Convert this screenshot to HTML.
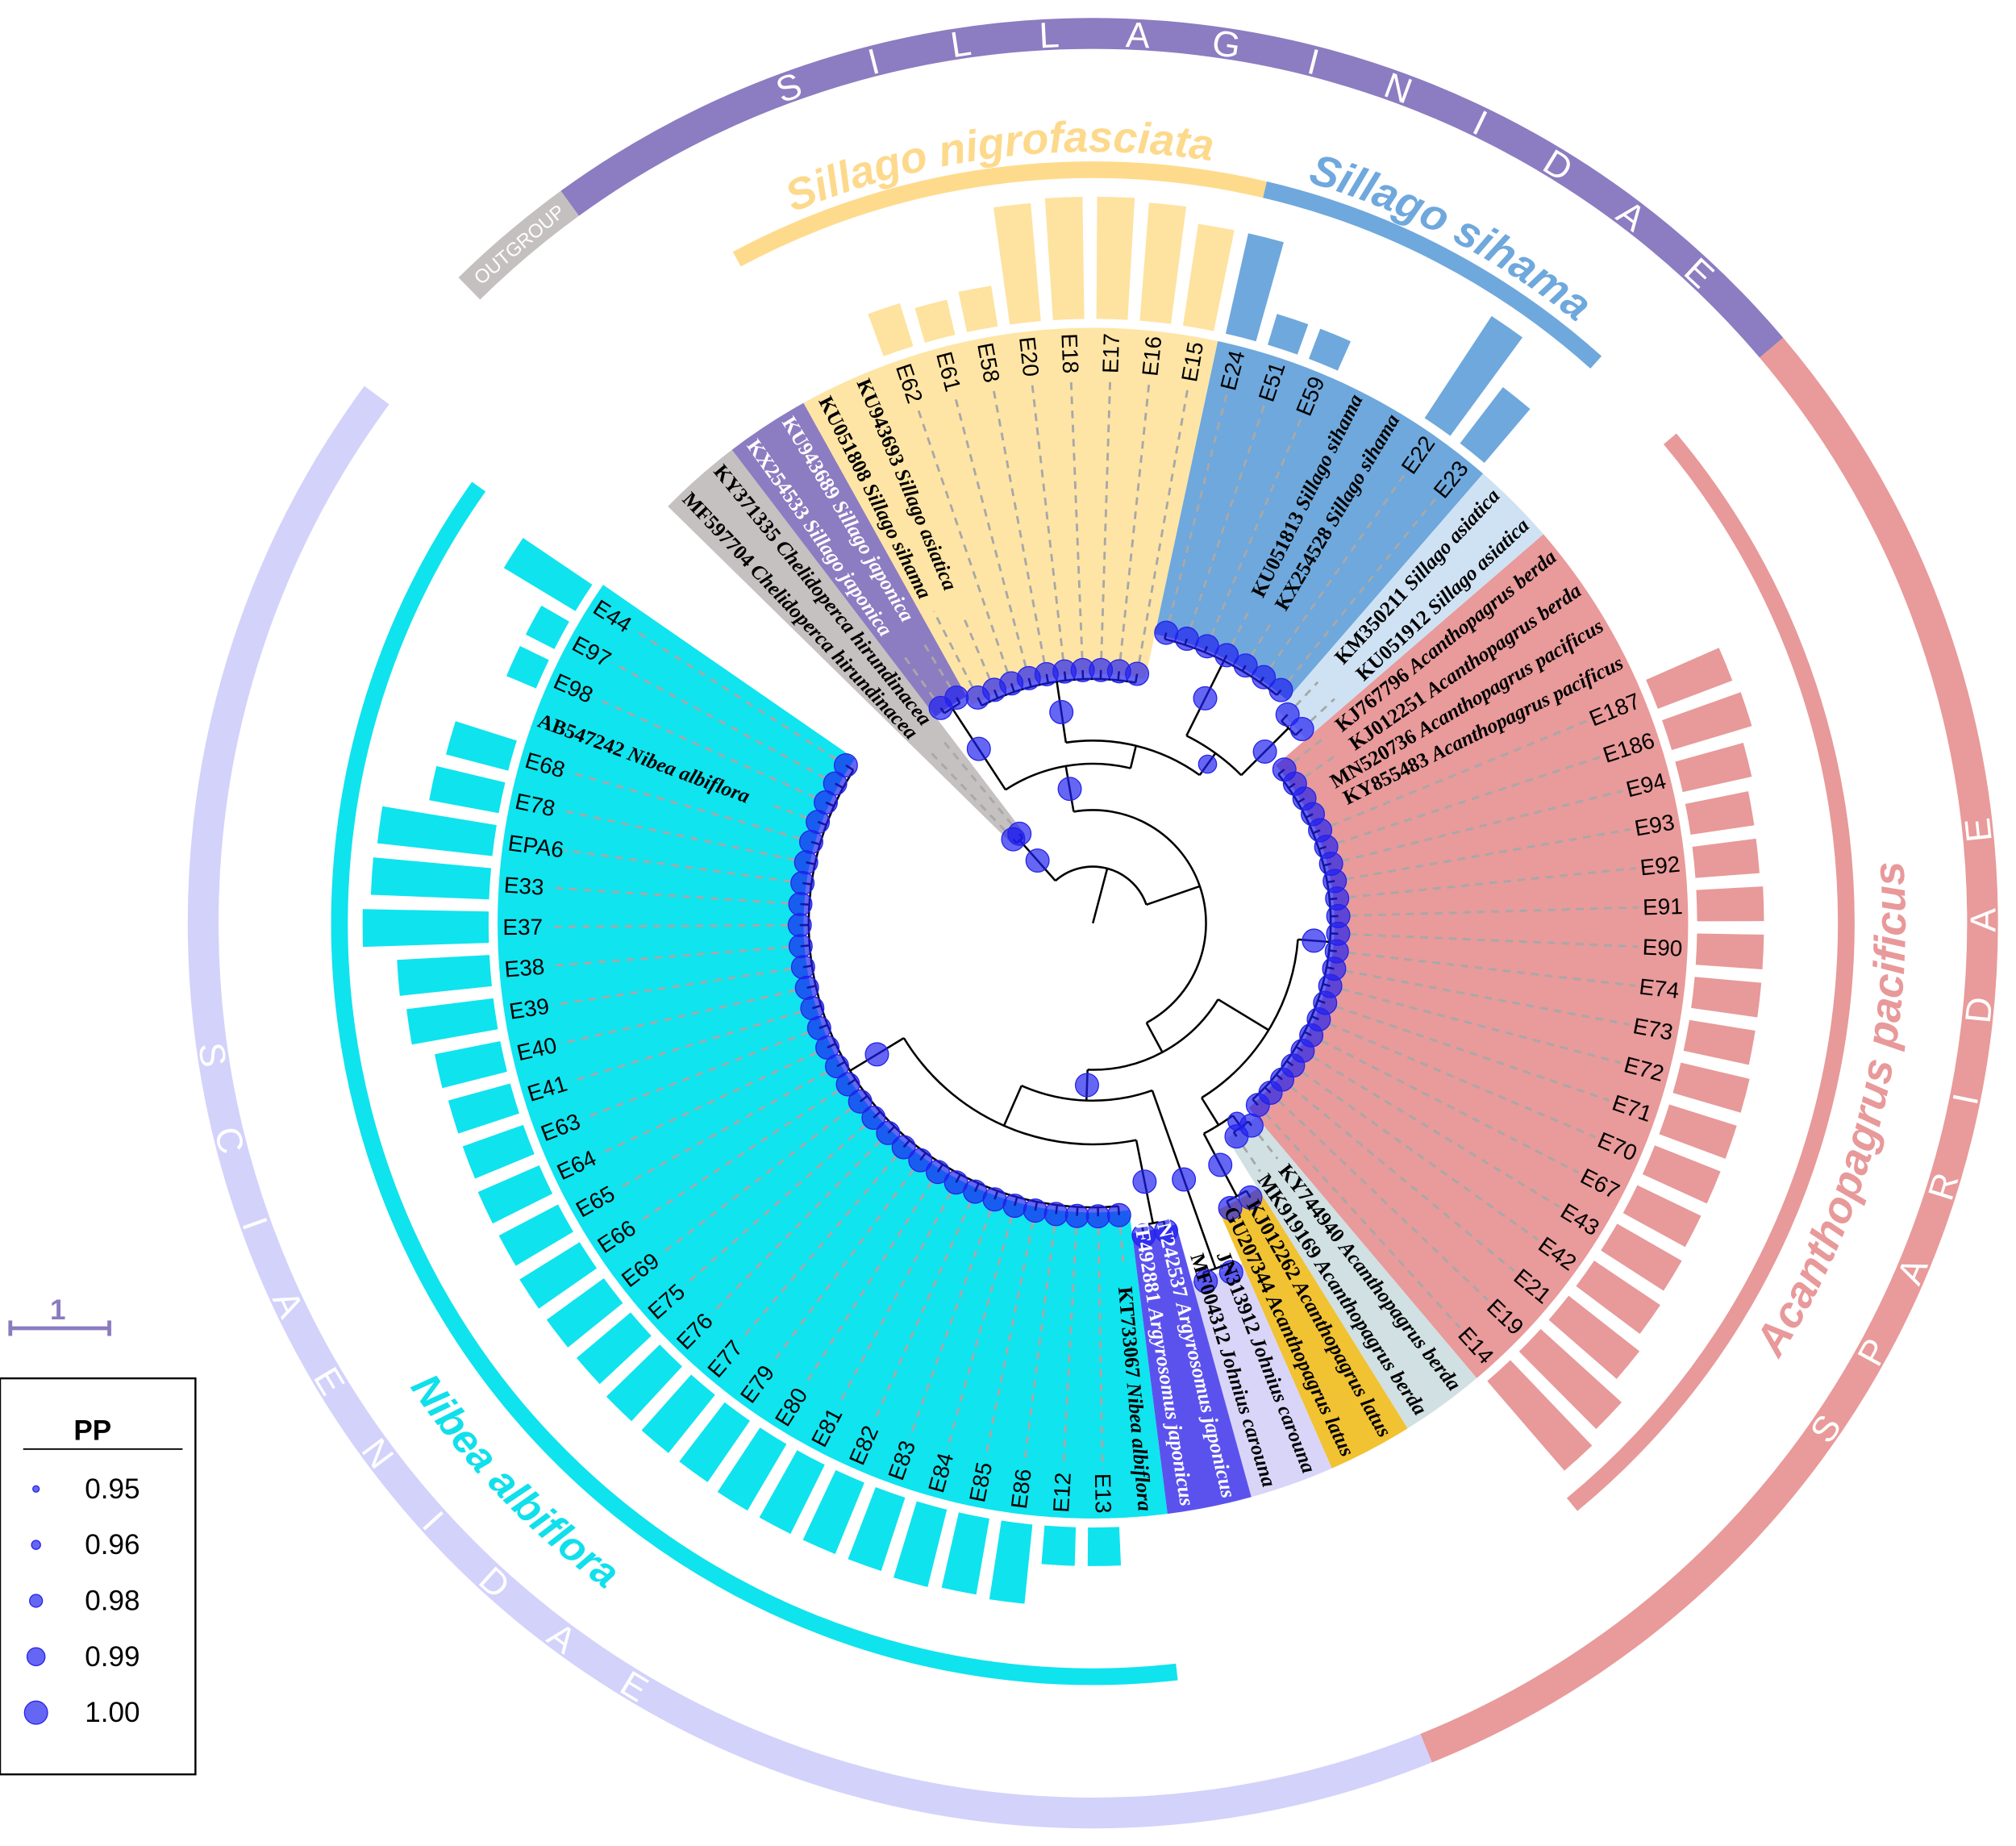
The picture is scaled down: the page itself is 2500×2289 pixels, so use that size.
<!DOCTYPE html>
<html>
<head>
<meta charset="utf-8">
<title>Circular phylogenetic tree</title>
<style>
html,body{margin:0;padding:0;background:#fff;}
svg{display:block;}
</style>
</head>
<body>
<svg id="chart" xmlns="http://www.w3.org/2000/svg" width="2500" height="2289" viewBox="0 0 1568 1435.7">
  <rect x="0" y="0" width="1568" height="1435.7" fill="#ffffff"/>
  <g id="wedges"></g>
  <g id="bars"></g>
  <g id="dashes"></g>
  <g id="tree"></g>
  <g id="dots"></g>
  <g id="labels"></g>
  <g id="rings"></g>
  <g id="ringtext"></g>

  <g>
    <text x="45" y="1026" font-family="Liberation Sans, sans-serif" font-weight="bold" font-size="22" fill="#8b7bc0" text-anchor="middle">1</text>
    <line x1="8" y1="1033" x2="85" y2="1033" stroke="#8b7bc0" stroke-width="3"/>
    <line x1="8" y1="1027" x2="8" y2="1039" stroke="#8b7bc0" stroke-width="3"/>
    <line x1="85" y1="1027" x2="85" y2="1039" stroke="#8b7bc0" stroke-width="3"/>
  </g>

  <g id="legend">
    <rect x="0" y="1072" width="152" height="308" fill="#fff" stroke="#000" stroke-width="1.5"/>
    <text x="72" y="1120" font-family="Liberation Sans, sans-serif" font-weight="bold" font-size="22" text-anchor="middle">PP</text>
    <line x1="18" y1="1127" x2="142" y2="1127" stroke="#000" stroke-width="1.2"/>
  </g>
</svg>

<script>
const CX = 850, CY = 718;
const A0 = -43.5, STEP = 4.12;

const tipNames = [
 "MF597704 Chelidoperca hirundinacea","KY371335 Chelidoperca hirundinacea",
 "KX254533 Sillago japonica","KU943689 Sillago japonica",
 "KU051808 Sillago sihama","KU943693 Sillago asiatica","E62","E61","E58","E20","E18","E17","E16","E15",
 "E24","E51","E59","KU051813 Sillago sihama","KX254528 Sillago sihama","E22","E23",
 "KM350211 Sillago asiatica","KU051912 Sillago asiatica",
 "KJ767796 Acanthopagrus berda","KJ012251 Acanthopagrus berda","MN520736 Acanthopagrus pacificus","KY855483 Acanthopagrus pacificus",
 "E187","E186","E94","E93","E92","E91","E90","E74","E73","E72","E71","E70","E67","E43","E42","E21","E19","E14",
 "KY744940 Acanthopagrus berda","MK919169 Acanthopagrus berda",
 "KJ012262 Acanthopagrus latus","GU207344 Acanthopagrus latus",
 "JN313912 Johnius carouna","MF004312 Johnius carouna",
 "JN242537 Argyrosomus japonicus","JF492881 Argyrosomus japonicus",
 "KT733067 Nibea albiflora","E13","E12","E86","E85","E84","E83","E82","E81","E80","E79","E77","E76","E75","E69","E66","E65","E64","E63","E41","E40","E39","E38","E37","E33","EPA6","E78","E68","AB547242 Nibea albiflora","E98","E97","E44"
];

const tipRadius = [
 90,90,
 205,205,
 197,197,197,197,197,197,197,197,197,197,
 233,233,233,233,233,233,233,
 222,222,
 191,191,191,191,191,191,191,191,191,191,191,191,191,191,191,191,191,191,191,191,191,191,
 200,200,
 246,246,
 292,292,
 246,246,
 228,228,228,228,228,228,228,228,228,228,228,228,228,228,228,228,228,228,228,228,228,228,228,228,228,228,228,228,228,228,228,228
];

const barLength = [
 0,0,
 0,0,
 0,0,35,28,32,92,95,95,92,80,
 80,25,25,0,0,95,55,
 0,0,
 0,0,0,0,62,65,55,50,50,52,52,52,52,55,55,55,55,58,62,70,85,92,
 0,0,
 0,0,
 0,0,
 0,0,
 0,30,30,62,60,62,60,60,60,60,58,58,58,55,55,55,52,52,50,50,52,68,72,98,92,90,55,50,0,25,25,65
];

const groupNames = ["outgroup","sillago-japonica","sillago-nigrofasciata","sillago-sihama","sillago-asiatica","acanthopagrus-pacificus","acanthopagrus-berda","acanthopagrus-latus","johnius-carouna","argyrosomus-japonicus","nibea-albiflora"];
const groupFirst = [0,2,4,14,21,23,45,47,49,51,53];
const groupLast  = [1,3,13,20,22,44,46,48,50,52,84];
const groupColor = ["#c5c1c0","#8c7cc1","#fee5a5","#6ea8dc","#cfe2f3","#e99a9a","#d0e0e3","#f1c232","#d9d5f8","#5b52ee","#0fe4ef"];
const groupText  = ["#000","#fff","#000","#000","#000","#000","#000","#000","#000","#fff","#000"];
const barColor   = ["#c5c1c0","#8c7cc1","#fee29f","#6fa8dc","#cfe2f3","#e89999","#e89999","#e89999","#d9d5f8","#5b52ee","#0fe3ee"];

const nodes = {
 A:{r:44,c:["Out","B"]},
 Out:{r:86,c:[0,1]},
 B:{r:88,c:["C","D"]},
 C:{r:124,c:["Jap","E"]},
 Jap:{r:200,c:[2,3]},
 E:{r:142,c:["Y","F"]},
 Y:{r:190,c:[4,5,6,7,8,9,10,11,12,13]},
 F:{r:163,c:["Bl","LB"]},
 Bl:{r:228,c:[14,15,16,17,18,19,20]},
 LB:{r:215,c:[21,22]},
 D:{r:114,c:["Ac","G"]},
 Ac:{r:160,c:["Red","Low"]},
 Red:{r:185,c:[23,24,25,26,27,28,29,30,31,32,33,34,35,36,37,38,39,40,41,42,43,44]},
 Low:{r:185,c:["Te","Go"]},
 Te:{r:196,c:[45,46]},
 Go:{r:240,c:[47,48]},
 G:{r:138,c:["Jo","H"]},
 Jo:{r:285,c:[49,50]},
 H:{r:172,c:["I","J"]},
 I:{r:238,c:[51,52]},
 J:{r:221,c:[53,54,55,56,57,58,59,60,61,62,63,64,65,66,67,68,69,70,71,72,73,74,75,76,77,78,79,80,81,82,83,84]}
};
const nodeParent = {Out:"A",B:"A",C:"B",D:"B",Jap:"C",E:"C",Y:"E",F:"E",Bl:"F",LB:"F",Ac:"D",G:"D",Red:"Ac",Low:"Ac",Te:"Low",Go:"Low",Jo:"G",H:"G",I:"H",J:"H"};
const nodePPKeys   = ["Out","C","Jap","Y","F","Bl","LB","Red","G","J","I","Jo","Go","Te"];
const nodePPValues = [1.00,1.00,1.00,1.00,0.99,1.00,1.00,1.00,1.00,1.00,1.00,1.00,1.00,0.99];
const tipPP = 1.00;

const legendValues = [0.95,0.96,0.98,0.99,1.00];
const legendLabels = ["0.95","0.96","0.98","0.99","1.00"];

const NS = "http://www.w3.org/2000/svg";
function P(r,a){const t=a*Math.PI/180;return [CX+r*Math.sin(t), CY-r*Math.cos(t)];}
function ang(i){return A0+i*STEP;}
function ppRadius(v){ if(v>=1) return 9; if(v>=0.99) return 7; if(v>=0.98) return 5; if(v>=0.96) return 3.5; return 2.5; }
function el(tag, parent, attrs){const e=document.createElementNS(NS,tag);for(const k in attrs)e.setAttribute(k,attrs[k]);parent.appendChild(e);return e;}
function sector(r1,r2,a1,a2){
  const lg=(a2-a1)>180?1:0;
  const p1=P(r2,a1),p2=P(r2,a2),p3=P(r1,a2),p4=P(r1,a1);
  return `M${p1[0]},${p1[1]} A${r2},${r2} 0 ${lg} 1 ${p2[0]},${p2[1]} L${p3[0]},${p3[1]} A${r1},${r1} 0 ${lg} 0 ${p4[0]},${p4[1]} Z`;
}
function arcPath(r,a1,a2){
  const lg=(a2-a1)>180?1:0;const p1=P(r,a1),p2=P(r,a2);
  return `M${p1[0]},${p1[1]} A${r},${r} 0 ${lg} 1 ${p2[0]},${p2[1]}`;
}
function groupOf(i){for(let g=0;g<groupFirst.length;g++) if(i>=groupFirst[g]&&i<=groupLast[g]) return g; return 0;}
function angOf(c){ if(typeof c==="number") return ang(c); const n=nodes[c]; return (angOf(n.c[0])+angOf(n.c[n.c.length-1]))/2; }
function radOf(c){ return typeof c==="number" ? tipRadius[c] : nodes[c].r; }

const gW=document.getElementById("wedges"), gB=document.getElementById("bars"), gD=document.getElementById("dashes"),
      gT=document.getElementById("tree"), gP=document.getElementById("dots"), gL=document.getElementById("labels"),
      gR=document.getElementById("rings"), gRT=document.getElementById("ringtext");

for(let g=0; g<groupNames.length; g++){
  let minR=1e9; for(let i=groupFirst[g]; i<=groupLast[g]; i++) minR=Math.min(minR,tipRadius[i]);
  const w=el("path",gW,{d:sector(minR-3,463,ang(groupFirst[g])-STEP/2,ang(groupLast[g])+STEP/2),fill:groupColor[g]});
  
  
}

for(let i=0;i<tipNames.length;i++){
  if(barLength[i]<=0) continue;
  const g=groupOf(i), a=ang(i);
  const b=el("path",gB,{d:sector(470,470+barLength[i],a-STEP*0.36,a+STEP*0.36),fill:barColor[g]});
  
  
}

for(let i=0;i<tipNames.length;i++){
  const a=ang(i), g=groupOf(i), name=tipNames[i];
  const sp=name.indexOf(" ");
  const isAcc = sp>0;
  const w = isAcc ? name.length*7.9 : name.length*9.8;
  const rOut=459, rIn=rOut-w;
  const d1=P(tipRadius[i]+9,a), d2=P(rIn-5,a);
  if(rIn-5>tipRadius[i]+9){
    const ln=el("line",gD,{x1:d1[0],y1:d1[1],x2:d2[0],y2:d2[1],stroke:"#a8a8a8","stroke-width":1.8,"stroke-dasharray":"6 5"});
    
    
  }
  let norm=((a%360)+360)%360;
  const right = norm<180;
  const p=P(rOut,a);
  const rot = right ? a-90 : a+90;
  const t=el("text",gL,{x:p[0],y:p[1],transform:`rotate(${rot} ${p[0]} ${p[1]})`,"text-anchor":right?"end":"start","dominant-baseline":"central",fill:groupText[g]});
  
  
  if(isAcc){
    t.setAttribute("font-family","Liberation Serif, serif");
    t.setAttribute("font-weight","bold");
    t.setAttribute("font-size","16");
    const s1=el("tspan",t,{}); s1.textContent=name.slice(0,sp)+" ";
    const s2=el("tspan",t,{"font-style":"italic"}); s2.textContent=name.slice(sp+1);
  } else {
    t.setAttribute("font-family","Liberation Sans, sans-serif");
    t.setAttribute("font-size","17.5");
    t.textContent=name;
  }
}

const stroke={stroke:"#000","stroke-width":1.6,fill:"none"};
{
  const a=angOf("A"), p1=P(0,a), p2=P(nodes.A.r,a);
  const root=el("line",gT,Object.assign({x1:p1[0],y1:p1[1],x2:p2[0],y2:p2[1]},stroke));
  
  
}
for(const k in nodes){
  const n=nodes[k];
  const a1=angOf(n.c[0]), a2=angOf(n.c[n.c.length-1]);
  const arc=el("path",gT,Object.assign({d:arcPath(n.r,a1,a2)},stroke));
  
  
  for(const c of n.c){
    const ac=angOf(c), q1=P(n.r,ac), q2=P(radOf(c),ac);
    const br=el("line",gT,Object.assign({x1:q1[0],y1:q1[1],x2:q2[0],y2:q2[1]},stroke));
    
    
  }
}

const dotStyle={fill:"rgba(30,30,240,0.68)",stroke:"#2323e8","stroke-width":0.8};
for(let i=0;i<tipNames.length;i++){
  const p=P(tipRadius[i],ang(i));
  const c=el("circle",gP,Object.assign({cx:p[0],cy:p[1],r:ppRadius(tipPP)},dotStyle));
  
  
}
for(let j=0;j<nodePPKeys.length;j++){
  const k=nodePPKeys[j], par=nodes[nodeParent[k]];
  const r=(par.r+nodes[k].r)/2, p=P(r,angOf(k));
  const c=el("circle",gP,Object.assign({cx:p[0],cy:p[1],r:ppRadius(nodePPValues[j])},dotStyle));
  
  
}

const arcNames = ["sillago-nigrofasciata","sillago-sihama","acanthopagrus-pacificus","nibea-albiflora"];
const arcStart = [-28.2,13.2,50,173.6];
const arcEnd   = [13.2,41.9,140.5,305.4];
const arcColor = ["#fedb8c","#6fa8dc","#e89999","#0fe3ee"];
for(let j=0;j<arcNames.length;j++){
  const p=el("path",gR,{d:arcPath(586,arcStart[j],arcEnd[j]),stroke:arcColor[j],"stroke-width":13,fill:"none"});
  
  
}
const famNames = ["outgroup","sillaginidae","sparidae","sciaenidae"];
const famStart = [-44.5,-36,49.7,158];
const famEnd   = [-36,49.7,158,306.4];
const famColor = ["#c4c0bf","#8c7cc1","#e99a9a","#d3d2fb"];
for(let j=0;j<famNames.length;j++){
  const p=el("path",gR,{d:arcPath(692,famStart[j],famEnd[j]),stroke:famColor[j],"stroke-width":24,fill:"none"});
  
  
}

function ringLetters(word, aFirst, aStep, clockwise, r, size, key){
  for(let i=0;i<word.length;i++){
    const a=aFirst+(clockwise?1:-1)*i*aStep;
    const p=P(r,a);
    const t=el("text",gRT,{x:p[0],y:p[1],transform:`rotate(${clockwise?a:a+180} ${p[0]} ${p[1]})`,"text-anchor":"middle","font-family":"Liberation Sans, sans-serif","font-size":size,fill:"#fff"});
    
    
    t.textContent=word[i];
  }
}
ringLetters("SILLAGINIDAE",-20,63/11,true,682,28,"sillaginidae");
ringLetters("SPARIDAE",124.6,40.6/7,false,702,28,"sparidae");
ringLetters("SCIAENIDAE",261.5,50.5/9,false,702,28,"sciaenidae");
{
  const a=-40.2, p=P(686,a);
  const t=el("text",gRT,{x:p[0],y:p[1],transform:`rotate(${a} ${p[0]} ${p[1]})`,"text-anchor":"middle","font-family":"Liberation Sans, sans-serif","font-size":15,fill:"#fff"});
  
  
  t.textContent="OUTGROUP";
}

const defs=el("defs",document.getElementById("chart"),{});
function curvedLabel(id, txt, center, r, clockwise, color, size){
  const s=center-70, e=center+70;
  let d;
  if(clockwise){ d=arcPath(r,s,e); }
  else { const p1=P(r,e),p2=P(r,s); d=`M${p1[0]},${p1[1]} A${r},${r} 0 0 0 ${p2[0]},${p2[1]}`; }
  el("path",defs,{id:id,d:d});
  const t=el("text",gRT,{"font-family":"Liberation Sans, sans-serif","font-weight":"bold","font-style":"italic","font-size":size,fill:color,"text-anchor":"middle"});
  
  
  const tp=el("textPath",t,{href:"#"+id,startOffset:"50%"});
  tp.setAttributeNS("http://www.w3.org/1999/xlink","xlink:href","#"+id);
  tp.textContent=txt;
}
curvedLabel("sillago-nigrofasciata","Sillago nigrofasciata",-7,600,true,"#fdd98c",34);
curvedLabel("sillago-sihama","Sillago sihama",27.5,600,true,"#6fa8dc",34);
curvedLabel("acanthopagrus-pacificus","Acanthopagrus pacificus",104,632,false,"#e8999a",34);
curvedLabel("nibea-albiflora","Nibea albiflora",226,642,false,"#10e0ec",32);

const gLeg=document.getElementById("legend");
for(let j=0;j<legendValues.length;j++){
  const y=1158+j*43.5;
  const c=el("circle",gLeg,Object.assign({cx:28,cy:y,r:ppRadius(legendValues[j])},dotStyle));
  
  
  const t=el("text",gLeg,{x:66,y:y,"dominant-baseline":"central","font-family":"Liberation Sans, sans-serif","font-size":22,fill:"#000"});
  
  
  t.textContent=legendLabels[j];
}
</script>
</body>
</html>
